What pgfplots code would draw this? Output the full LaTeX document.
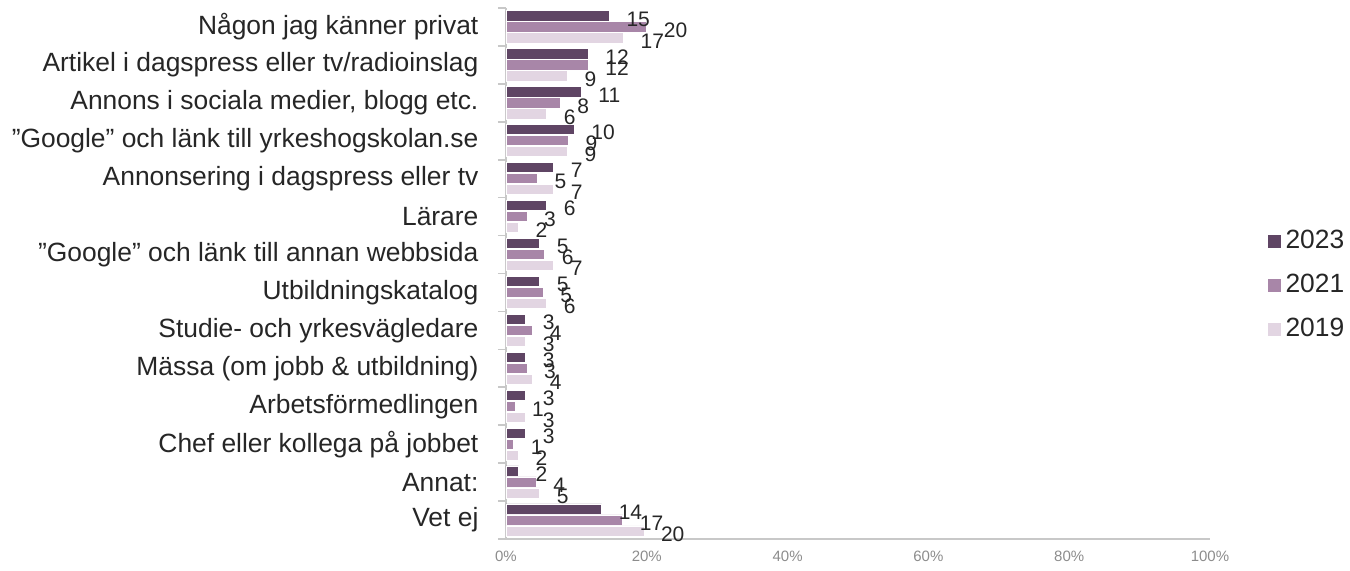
\documentclass[border=0pt]{standalone}
\usepackage{fontspec}
\setmainfont{Liberation Sans}
\usepackage{pgfplots}
\pgfplotsset{compat=1.18}
\usepackage{pgfplotstable}

\definecolor{c23}{HTML}{5F4564}
\definecolor{c21}{HTML}{A886A8}
\definecolor{c19}{HTML}{E2D5E2}
\definecolor{txt}{HTML}{262626}
\definecolor{axgray}{HTML}{C8C8C8}
\definecolor{tickgray}{HTML}{8C8C8C}

\pgfplotstableread{
y x label
13 14.7 15
12 11.7 12
11 10.7 11
10 9.7 10
9 6.8 7
8 5.8 6
7 4.8 5
6 4.8 5
5 2.8 3
4 2.8 3
3 2.8 3
2 2.8 3
1 1.8 2
0 13.6 14
}\tA

\pgfplotstableread{
y x label
13 20.0 20
12 11.7 12
11 7.7 8
10 8.9 9
9 4.5 5
8 3.0 3
7 5.5 6
6 5.3 5
5 3.8 4
4 3.0 3
3 1.3 1
2 1.1 1
1 4.3 4
0 16.6 17
}\tB

\pgfplotstableread{
y x label
13 16.7 17
12 8.75 9
11 5.8 6
10 8.75 9
9 6.8 7
8 1.8 2
7 6.8 7
6 5.8 6
5 2.8 3
4 3.8 4
3 2.8 3
2 1.8 2
1 4.8 5
0 19.6 20
}\tC

\begin{document}
\begin{tikzpicture}
\begin{axis}[
  at={(0,0)}, anchor=south west,
  scale only axis, width=352pt, height=265.5pt,
  xbar, bar width=0.27,
  xmin=0, xmax=100, ymin=-0.5, ymax=13.5,
  axis x line*=bottom, axis y line*=left,
  axis line style={axgray, line width=0.8pt, -},
  xtick={0,20,...,100},
  xticklabel={\pgfmathprintnumber[assume math mode=true]{\tick}\%},
  x tick label style={font=\fontsize{7.5}{8}\selectfont, text=tickgray, yshift=2pt},
  major x tick style={draw=none},
  ytick={0,...,13},
  yticklabels={Vet ej, Annat:, Chef eller kollega på jobbet, Arbetsförmedlingen, Mässa (om jobb \& utbildning), Studie- och yrkesvägledare, Utbildningskatalog, ”Google” och länk till annan webbsida, Lärare, Annonsering i dagspress eller tv, ”Google” och länk till yrkeshogskolan.se, {Annons i sociala medier, blogg etc.}, Artikel i dagspress eller tv/radioinslag, Någon jag känner privat},
  y tick label style={font=\fontsize{13.2}{15}\selectfont, text=txt, xshift=-6pt},
  major y tick style={draw=none},
  minor ytick={-0.5,0.5,...,13.5},
  minor y tick style={axgray, line width=0.8pt},
  minor tick length=4pt, tick align=outside,
  nodes near coords, point meta=explicit symbolic,
  every node near coord/.append style={font=\fontsize{10.5}{11}\selectfont, text=txt, anchor=west, xshift=5pt, yshift=-1.5pt},
  legend style={draw=none, fill=none, at={(1.08,0.478)}, anchor=west, font=\fontsize{13.2}{15}\selectfont, text=txt, row sep=7.3pt, inner sep=0pt},
  legend cell align=left,
  legend image code/.code={\fill[#1] (0pt,-3.5pt) rectangle (7pt,3.5pt);},
]
\addplot[fill=c23, draw=white, line width=0.4pt, bar shift=0.29] table[x=x, y=y, meta=label] {\tA};
\addplot[fill=c21, draw=white, line width=0.4pt, bar shift=0] table[x=x, y=y, meta=label] {\tB};
\addplot[fill=c19, draw=white, line width=0.4pt, bar shift=-0.29] table[x=x, y=y, meta=label] {\tC};
\legend{2023,2021,2019}
\end{axis}
\pgfresetboundingbox
\path (-253pt,-16pt) rectangle (422pt,269.5pt);
\end{tikzpicture}
\end{document}
